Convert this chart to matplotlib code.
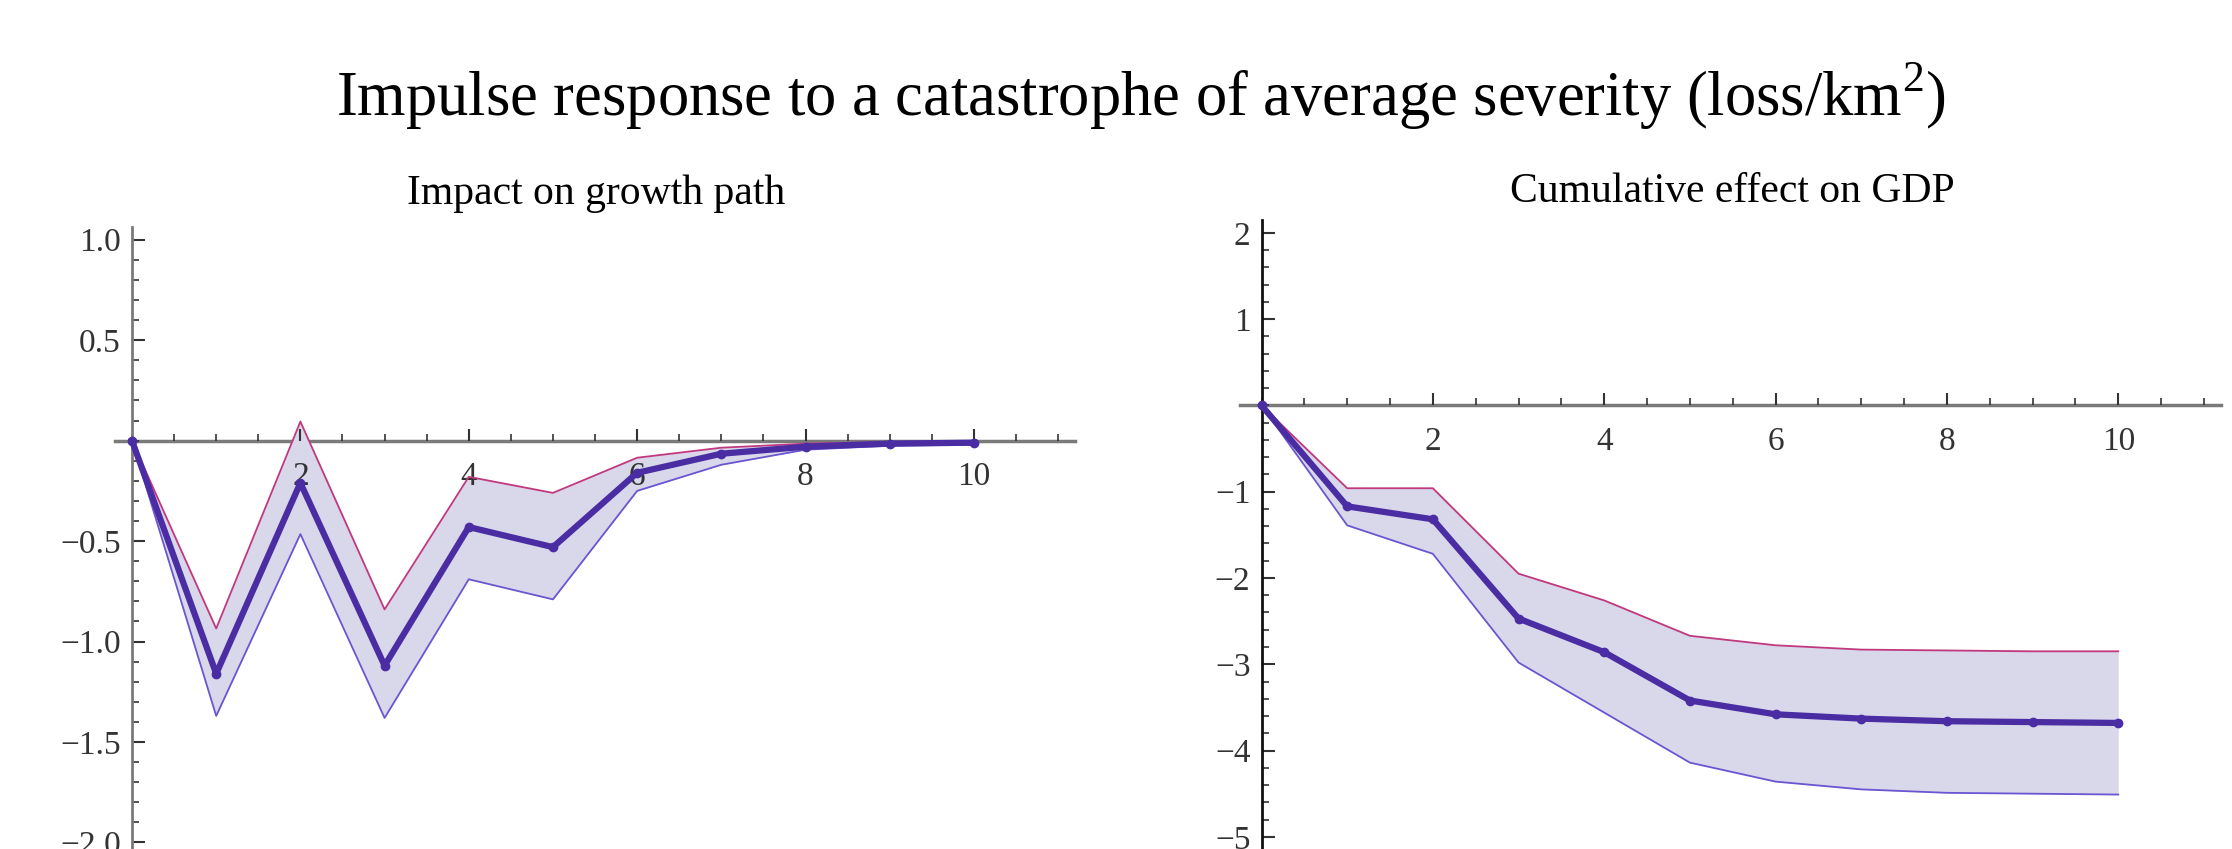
import numpy as np
import matplotlib.pyplot as plt
from matplotlib.ticker import MultipleLocator, FixedLocator

plt.rcParams['font.family'] = ['Liberation Serif', 'DejaVu Serif']
plt.rcParams['mathtext.fontset'] = 'custom'
plt.rcParams['mathtext.rm'] = 'Liberation Serif'

# horizon (years after the catastrophe)
t = list(range(11))

# impact on growth path
growth_mean = [0, -1.16, -0.21, -1.12, -0.43, -0.53, -0.16, -0.065, -0.03, -0.015, -0.01]
growth_upper = [0, -0.935, 0.095, -0.84, -0.18, -0.26, -0.085, -0.035, -0.015, -0.006, -0.004]
growth_lower = [0, -1.37, -0.465, -1.38, -0.69, -0.79, -0.25, -0.12, -0.045, -0.025, -0.02]

# cumulative effect on GDP
gdp_mean = [0, -1.17, -1.32, -2.47, -2.86, -3.42, -3.58, -3.63, -3.66, -3.67, -3.68]
gdp_upper = [0, -0.96, -0.96, -1.95, -2.26, -2.67, -2.78, -2.83, -2.84, -2.85, -2.85]
gdp_lower = [0, -1.39, -1.72, -2.98, -3.56, -4.14, -4.36, -4.45, -4.49, -4.50, -4.51]

fill_col = '#d9d7ea'
mean_col = '#4a2ca3'
up_col = '#c0387e'
low_col = '#6b55d2'
axis_col = '#7a7a7a'

fig = plt.figure(figsize=(22.32, 8.49), dpi=100)

def draw(ax, mean, upper, lower, yticks, ylabels, yminor, ycol):
    ax.fill_between(t, lower, upper, color=fill_col, lw=0, zorder=1)
    ax.plot(t, upper, color=up_col, lw=1.3, zorder=2)
    ax.plot(t, lower, color=low_col, lw=1.3, zorder=2)
    ax.plot(t, mean, color=mean_col, lw=4.5, marker='o', ms=6, zorder=3)
    for s in ['top', 'right']:
        ax.spines[s].set_visible(False)
    ax.spines['left'].set_position(('data', 0))
    ax.spines['bottom'].set_position(('data', 0))
    ax.spines['left'].set_color(ycol)
    ax.spines['bottom'].set_color(axis_col)
    ax.spines['bottom'].set_linewidth(2.5)
    ax.spines['left'].set_linewidth(2)
    ax.spines['bottom'].set_zorder(0.5)
    ax.xaxis.set_major_locator(FixedLocator([2, 4, 6, 8, 10]))
    ax.xaxis.set_minor_locator(MultipleLocator(0.5))
    ax.yaxis.set_major_locator(FixedLocator(yticks))
    ax.set_yticklabels(ylabels)
    ax.yaxis.set_minor_locator(MultipleLocator(yminor))
    ax.tick_params(axis='both', which='major', direction='in', length=9, width=1.5,
                   labelsize=24, colors='#333333', pad=8)
    ax.tick_params(axis='x', which='major', pad=15)
    ax.tick_params(axis='both', which='minor', direction='in', length=5, width=1.2, colors='#333333')
    ax.patch.set_alpha(0)

ax1 = fig.add_axes([0.0516, -0.016, 0.430, 0.749])
ax1.set_xlim(-0.2, 11.2)
ax1.set_ylim(-2.1, 1.065)
draw(ax1, growth_mean, growth_upper, growth_lower,
     [1.0, 0.5, -0.5, -1.0, -1.5, -2.0],
     ['1.0', '0.5', '\u22120.5', '\u22121.0', '\u22121.5', '\u22122.0'], 0.1, axis_col)

ax2 = fig.add_axes([0.5556, -0.006, 0.4395, 0.747])
ax2.set_xlim(-0.25, 11.2)
ax2.set_ylim(-5.2, 2.15)
draw(ax2, gdp_mean, gdp_upper, gdp_lower,
     [2, 1, -1, -2, -3, -4, -5],
     ['2', '1', '\u22121', '\u22122', '\u22123', '\u22124', '\u22125'], 0.2, '#111111')

fig.text(0.267, 0.760, 'Impact on growth path', ha='center', va='baseline', fontsize=30)
fig.text(0.776, 0.762, 'Cumulative effect on GDP', ha='center', va='baseline', fontsize=30)
fig.text(0.511, 0.886, r'Impulse response to a catastrophe of average severity (loss/km$^2$)',
         ha='center', va='center', fontsize=45)

fig.savefig('out.png', dpi=100)
